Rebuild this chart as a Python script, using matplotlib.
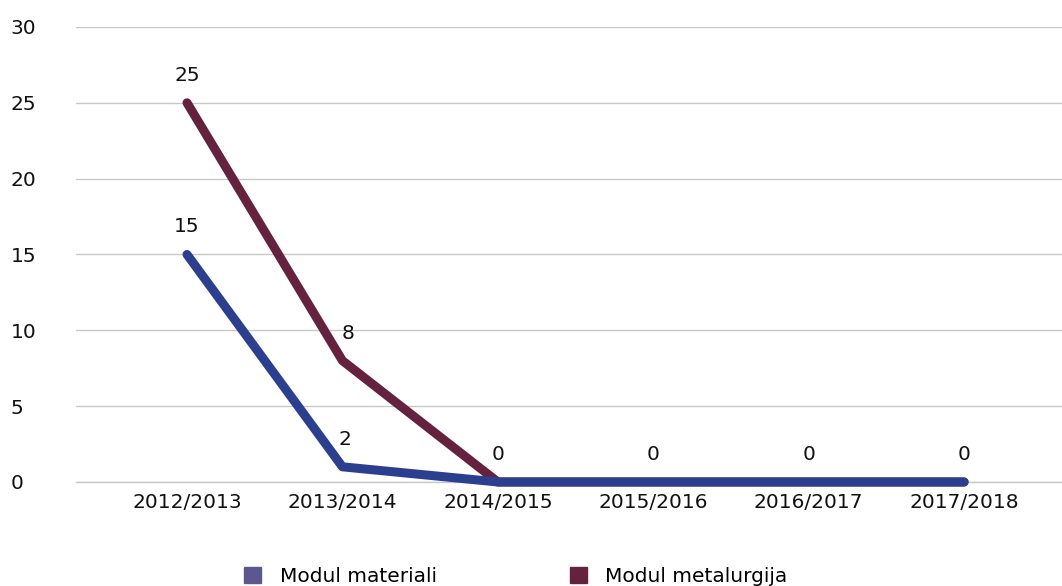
import matplotlib
matplotlib.use("Agg")
import matplotlib.pyplot as plt
from matplotlib.patches import Patch

categories = ["2012/2013", "2013/2014", "2014/2015", "2015/2016", "2016/2017", "2017/2018"]
materiali = [15, 1, 0, 0, 0, 0]
metalurgija = [25, 8, 0, 0, 0, 0]
materiali_labels = ["15", "2", "0", "0", "0", "0"]
metalurgija_labels = ["25", "8", "", "", "", ""]
yticks = [0, 5, 10, 15, 20, 25, 30]

plt.rcParams['font.family'] = ['DejaVu Sans']
FS = 14.5

fig = plt.figure(figsize=(10.62, 5.86), dpi=100)
ax = fig.add_axes([0.0716, 0.1775, 1 - 0.0716, 0.954 - 0.1775])

blue = "#2b3f8e"
maroon = "#65223f"
x = list(range(len(categories)))

ax.plot(x, metalurgija, color=maroon, lw=6.5, solid_capstyle="round", solid_joinstyle="round",
        zorder=3, clip_on=False)
ax.plot(x, materiali, color=blue, lw=6.5, solid_capstyle="round", solid_joinstyle="round",
        zorder=4, clip_on=False)

for xi, v, t in zip(x, metalurgija, metalurgija_labels):
    if t:
        dx = 4 if xi > 0 else 0
        ax.annotate(t, (xi, v), xytext=(dx, 13), textcoords="offset points",
                    ha="center", va="bottom", fontsize=FS, color="#111111")
for xi, v, t in zip(x, materiali, materiali_labels):
    if t:
        dx = 2 if xi == 1 else 0
        ax.annotate(t, (xi, v), xytext=(dx, 13), textcoords="offset points",
                    ha="center", va="bottom", fontsize=FS, color="#111111")

ax.set_xlim(-0.714, 5.63)
ax.set_ylim(0, 30)
ax.set_yticks(yticks)
ax.set_xticks(x)
ax.set_xticklabels(categories)
ax.tick_params(axis="both", length=0, labelsize=FS, colors="#111111")
ax.tick_params(axis="y", pad=47)
ax.tick_params(axis="x", pad=8)
for lbl in ax.get_yticklabels():
    lbl.set_horizontalalignment("left")
ax.grid(axis="y", color="#c8c8c8", lw=1)
ax.axhline(0, color="#c8c8c8", lw=1, clip_on=False, zorder=1)
ax.set_axisbelow(True)
for s in ax.spines.values():
    s.set_visible(False)

handles = [Patch(color="#5b5791", label="Modul materiali"),
           Patch(color="#65223f", label="Modul metalurgija")]
fig.legend(handles=handles, loc="center", bbox_to_anchor=(0.4856, 0.016), ncol=2,
           frameon=False, fontsize=FS, handlelength=0.85, handleheight=0.85,
           columnspacing=6.6, handletextpad=0.9)

fig.savefig("out.png", dpi=100)
